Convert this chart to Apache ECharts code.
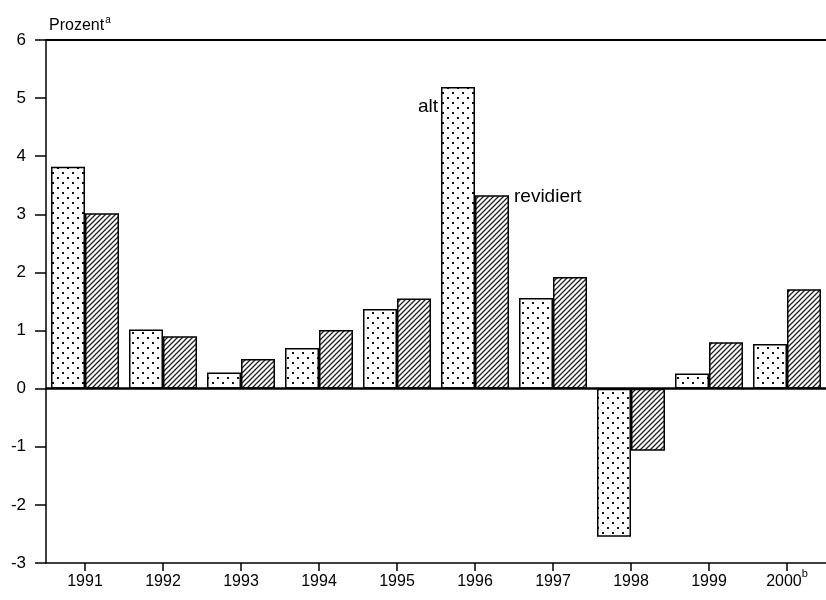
<!DOCTYPE html>
<html>
<head>
<meta charset="utf-8">
<script src="https://cdn.jsdelivr.net/npm/echarts@6/dist/echarts.min.js"></script>
<style>
  html, body { margin: 0; padding: 0; background: #fff; }
  #chart { width: 826px; height: 600px; }
</style>
</head>
<body>
<div id="chart"></div>
<script>
  // Jahre und Werte (Prozent)
  var years = ['1991', '1992', '1993', '1994', '1995', '1996', '1997', '1998', '1999', '2000'];
  var altValues = [3.82, 1.02, 0.28, 0.70, 1.37, 5.19, 1.56, -2.55, 0.26, 0.77];
  var revValues = [3.02, 0.90, 0.51, 1.01, 1.55, 3.33, 1.92, -1.07, 0.80, 1.71];
  var yTicks = [-3, -2, -1, 0, 1, 2, 3, 4, 5, 6];

  var font = '"Liberation Sans", Arial, sans-serif';

  // Punktraster fuer "alt"
  function dotPattern () {
    var c = document.createElement('canvas');
    c.width = 10; c.height = 10;
    var ctx = c.getContext('2d');
    ctx.fillStyle = '#fff';
    ctx.fillRect(0, 0, 10, 10);
    ctx.fillStyle = '#111';
    ctx.fillRect(2, 2, 2, 2);
    ctx.fillRect(7, 7, 2, 2);
    return c;
  }

  // Schraffur fuer "revidiert"
  function hatchPattern () {
    var c = document.createElement('canvas');
    c.width = 5; c.height = 5;
    var ctx = c.getContext('2d');
    ctx.fillStyle = '#fff';
    ctx.fillRect(0, 0, 5, 5);
    ctx.strokeStyle = '#222';
    ctx.lineWidth = 1.3;
    ctx.beginPath();
    ctx.moveTo(-1, 6); ctx.lineTo(6, -1);
    ctx.moveTo(-1, 1); ctx.lineTo(1, -1);
    ctx.moveTo(4, 6); ctx.lineTo(6, 4);
    ctx.stroke();
    return c;
  }

  var altData = altValues.map(function (v, i) {
    if (years[i] === '1996') {
      return {
        value: v,
        label: {
          show: true, formatter: 'alt', position: [-3, 20],
          align: 'right', verticalAlign: 'middle',
          fontFamily: font, fontSize: 19, color: '#000'
        }
      };
    }
    return v;
  });
  var revData = revValues.map(function (v, i) {
    if (years[i] === '1996') {
      return {
        value: v,
        label: {
          show: true, formatter: 'revidiert', position: ['100%', 2],
          distance: 0, offset: [5, 0],
          align: 'left', verticalAlign: 'middle',
          fontFamily: font, fontSize: 19, color: '#000'
        }
      };
    }
    return v;
  });

  var dom = document.getElementById('chart');
  var chart = echarts.init(dom, null, { renderer: 'canvas' });

  var option = {
    backgroundColor: '#fff',
    animation: false,
    title: {
      text: 'Prozent{sup|a}',
      left: 44, top: 10,
      textStyle: {
        fontFamily: font, fontSize: 16, fontWeight: 'normal', color: '#000',
        rich: { sup: { fontSize: 10, verticalAlign: 'top', padding: [0, 0, 12, 1], fontFamily: font } }
      }
    },
    grid: { left: 46, top: 40, width: 784, bottom: 37, containLabel: false },
    xAxis: [{
      type: 'category',
      data: years,
      position: 'bottom',
      axisLine: { show: true, onZero: false, lineStyle: { color: '#000', width: 1.5 } },
      axisTick: { show: true, alignWithLabel: true, length: 8, lineStyle: { color: '#000', width: 1.5 } },
      axisLabel: {
        interval: 0,
        margin: 5,
        formatter: function (v) { return v === '2000' ? '{n|2000}{sup|b}' : '{n|' + v + '}'; },
        rich: {
          n: { fontFamily: font, fontSize: 16, color: '#000', lineHeight: 28 },
          sup: { fontFamily: font, fontSize: 11, color: '#000', lineHeight: 14, verticalAlign: 'top' }
        }
      },
      splitLine: { show: false }
    }, {
      type: 'category',
      data: years,
      position: 'top',
      axisLine: { show: true, onZero: false, lineStyle: { color: '#000', width: 2 } },
      axisTick: { show: false },
      axisLabel: { show: false }
    }],
    yAxis: {
      type: 'value',
      min: yTicks[0],
      max: yTicks[yTicks.length - 1],
      interval: 1,
      axisLine: { show: true, lineStyle: { color: '#000', width: 1.5 } },
      axisTick: { show: true, length: 11, lineStyle: { color: '#000', width: 1.5 } },
      axisLabel: { fontFamily: font, fontSize: 17, color: '#000', margin: 20 },
      splitLine: { show: false }
    },
    series: [{
      name: 'alt',
      type: 'bar',
      data: altData,
      barWidth: 34,
      barGap: '0%',
      itemStyle: {
        color: { image: dotPattern(), repeat: 'repeat' },
        borderColor: '#000', borderWidth: 1.5
      },
      markLine: {
        silent: true,
        symbol: 'none',
        label: { show: false },
        lineStyle: { color: '#000', type: 'solid', width: 2.5 },
        data: [{ yAxis: 0 }]
      }
    }, {
      name: 'revidiert',
      type: 'bar',
      data: revData,
      barWidth: 34,
      itemStyle: {
        color: { image: hatchPattern(), repeat: 'repeat' },
        borderColor: '#000', borderWidth: 1.5
      }
    }]
  };

  chart.setOption(option);
  window.addEventListener('resize', function () { chart.resize(); });
</script>
</body>
</html>
